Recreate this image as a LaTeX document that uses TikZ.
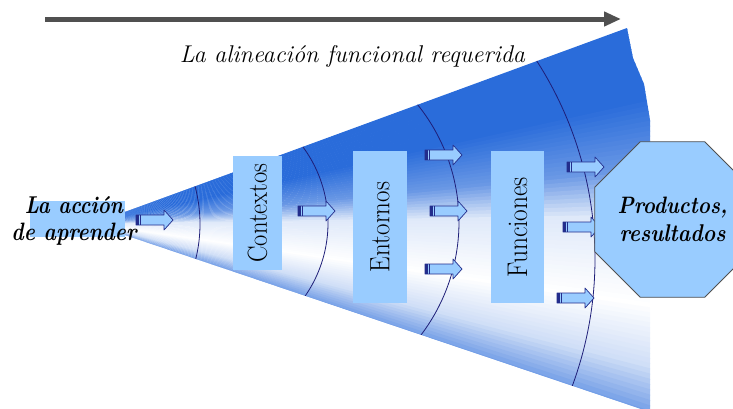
\documentclass[tikz,border=0pt]{standalone}
\usetikzlibrary{arrows.meta,shapes.geometric}
\definecolor{conecol}{RGB}{42,108,218}
\definecolor{boxblue}{RGB}{153,204,255}
\definecolor{arcnavy}{RGB}{30,30,120}
\definecolor{arrline}{RGB}{35,45,140}
\definecolor{topgray}{RGB}{80,80,80}
\newcommand\fitw[2]{\resizebox{#1}{!}{#2}}
\newcommand\fitwv[3]{\resizebox{#1}{!}{\scalebox{1}[#3]{#2}}}
\tikzset{
  lbox/.style={fill=boxblue, inner sep=0pt, font=\rmfamily\fontsize{22}{26}\selectfont},
  arcline/.style={draw=arcnavy, line width=0.8pt},
  barrow/.pic={
    \filldraw[fill=boxblue, draw=arrline, line width=0.7pt, line join=round]
      (0,-5) -- (28,-5) -- (28,-10) -- (37,0) -- (28,10) -- (28,5) -- (0,5) -- cycle;
    \fill[arrline] (0,-5) rectangle (3,5);
    \fill[arrline] (4,-5) rectangle (5,5);
  },
  bitext/.style={font=\rmfamily\bfseries\itshape\fontsize{22}{27.5}\selectfont, align=center, inner sep=0pt}
}
\begin{document}
\begin{tikzpicture}[x=1pt, y=-1pt]
\useasboundingbox (0,0) rectangle (733,408);
\clip (0,0) rectangle (733,408);
% cone
\begin{scope}
  \clip (125,212) -- (627,28) -- (633,58) -- (644,84) -- (650,120) -- (650,412) -- (125,235) -- cycle;
  \foreach \a in {-22,-21.5,...,21} {
    \pgfmathsetmacro\p{(\a<-13) ? 100 : ((\a<-6) ? 100-30*(\a+13)/7 : ((\a<-1) ? 70-55*(\a+6)/5 : ((\a<8) ? 15-15*(\a+1)/9 : ((\a<14) ? 22*(\a-8)/6 : min(70,22+48*(\a-14)/5)))))}
    \pgfmathsetmacro\b{\a+0.6}
    \fill[conecol!\p!white] (92,224) -- ([shift={(92,224)}]\a:800) -- ([shift={(92,224)}]\b:800) -- cycle;
  }
  \draw[arcline] plot[domain=-18:18, samples=30, smooth] ({54+146*cos(\x)}, {224+146*sin(\x)});
  \draw[arcline] plot[domain=-42:42, samples=40, smooth] ({200+128*cos(\x)}, {223+128*sin(\x)});
  \draw[arcline] plot[domain=-45:45, samples=40, smooth] ({272+187*cos(\x)}, {222+187*sin(\x)});
  \draw[arcline] plot[domain=-36:25, samples=50, smooth] ({229+366*cos(\x)}, {259+366*sin(\x)});
\end{scope}
% highlight behind left text
\fill[boxblue] (30,201) rectangle (125,237);
% boxes
\node[lbox, minimum width=49pt, minimum height=114pt] (ctx) at (257.5,213) {\rotatebox{90}{\fitwv{99pt}{Contextos}{1.12}}};
\node[lbox, minimum width=54pt, minimum height=152pt] (ent) at (380,227) {\rotatebox{90}{\fitwv{90pt}{Entornos}{1.12}}};
\node[lbox, minimum width=53pt, minimum height=152pt] (fun) at (517.5,227) {\rotatebox{90}{\fitwv{100pt}{Funciones}{1.12}}};
% arrows
\pic at (136,220) {barrow};
\pic at (298,211) {barrow};
\pic at (425,155) {barrow};
\pic at (430,211) {barrow};
\pic at (425,269) {barrow};
\pic at (567,167) {barrow};
\pic at (563,227) {barrow};
\pic at (557,298) {barrow};
% octagon
\node[regular polygon, regular polygon sides=8, minimum size=148.3pt, fill=boxblue, draw=topgray, line width=0.8pt, bitext] (prod) at (672.5,219.5) {\fitwv{110pt}{Productos,}{1.15}\\\fitwv{106pt}{resultados}{1.15}};
% left text
\node[bitext] (accion) at (74,221) {\fitwv{98pt}{La acción}{1.2}\\\fitwv{125pt}{de aprender}{1.2}};
% title and top arrow
\node[anchor=base, inner sep=0pt, font=\rmfamily\itshape\fontsize{22}{28}\selectfont] (title) at (352.5,62) {\fitw{345pt}{La alineación funcional requerida}};
\coordinate (arrS) at (45,19);
\coordinate (arrE) at (621,19);
\draw[topgray, line width=5pt, -{Triangle[length=17pt, width=14pt]}] (arrS) -- (arrE);
\end{tikzpicture}
\end{document}
